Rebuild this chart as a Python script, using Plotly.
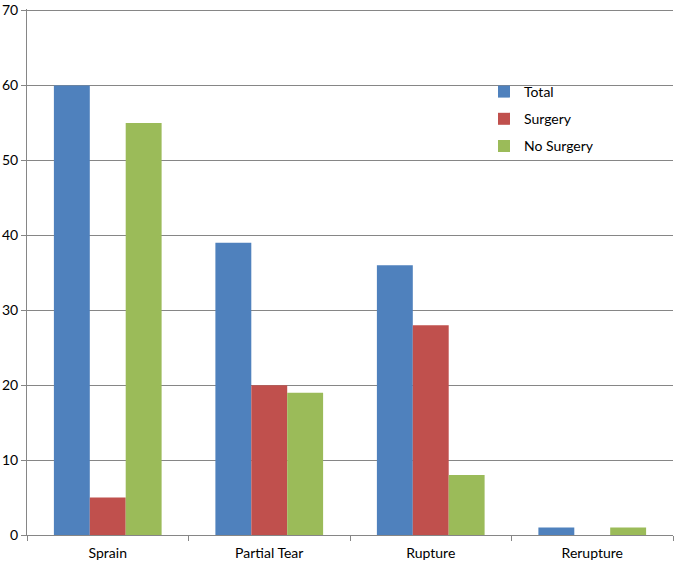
import plotly.graph_objects as go

categories = ["Sprain", "Partial Tear", "Rupture", "Rerupture"]
total = [60, 39, 36, 1]
surgery = [5, 20, 28, 0]
no_surgery = [55, 19, 8, 1]
y_ticks = [0, 10, 20, 30, 40, 50, 60, 70]

series = [("Total", total, "#4F81BD"), ("Surgery", surgery, "#C0504D"), ("No Surgery", no_surgery, "#9BBB59")]

fig = go.Figure()
for name, vals, col in series:
    fig.add_trace(go.Bar(x=categories, y=vals, name=name, marker=dict(color=col, line=dict(width=0)),
                         legendgroup=name))

font = "Lato, Carlito, 'Open Sans', sans-serif"
fig.update_layout(
    width=674, height=562,
    margin=dict(l=27, r=1, t=9, b=27, autoexpand=False),
    paper_bgcolor="white", plot_bgcolor="white",
    barmode="group", bargap=0.333, bargroupgap=0,
    font=dict(family=font, size=14, color="#000000"),
    showlegend=True,
    legend=dict(xref="container", yref="container", x=484/674, y=1-76/562, xanchor="left", yanchor="top",
                font=dict(size=14), tracegroupgap=6, bgcolor="rgba(0,0,0,0)"),
    xaxis=dict(showline=True, linecolor="#868686", linewidth=1, ticks="outside", ticklen=5,
               tickcolor="#868686", tickson="boundaries", showgrid=False, tickfont=dict(size=14),
               ticklabelstandoff=5),
    yaxis=dict(range=[0, 70.2], tickvals=y_ticks, showline=True, linecolor="#868686", linewidth=1,
               showgrid=True, gridcolor="#868686", gridwidth=1, ticks="outside", ticklen=5, tickcolor="#868686",
               zeroline=False, tickfont=dict(size=14), ticklabeloverflow="allow"),
)
fig.write_html("out.html", config={"displayModeBar": False},
               post_script="document.body.style.margin='0';document.body.style.overflow='hidden';")
